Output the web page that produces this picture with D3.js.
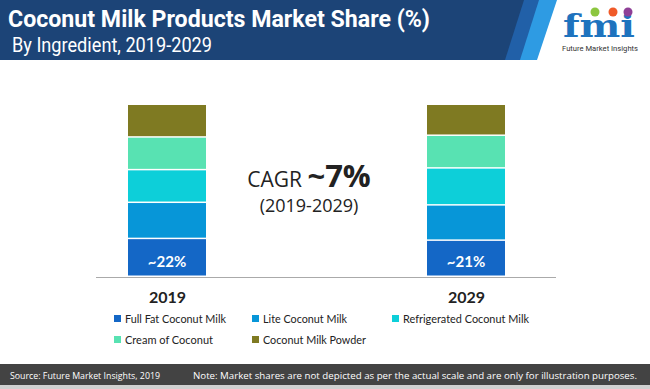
<!DOCTYPE html>
<html>
<head>
<meta charset="utf-8">
<script src="https://cdn.jsdelivr.net/npm/d3@7"></script>
<style>
  body { margin: 0; background: #fff; }
  svg { display: block; }
</style>
</head>
<body>
<script>
// data (shares, %)
let years = ["2019", "2029"];
let segments = ["Full Fat Coconut Milk", "Lite Coconut Milk", "Refrigerated Coconut Milk", "Cream of Coconut", "Coconut Milk Powder"];
let share2019 = [22, 21, 19, 19, 19];
let share2029 = [21, 20.5, 21.5, 19, 18];
let barLabels = ["~22%", "~21%"];
let colors = ["#1467c6", "#0796d8", "#0dcfd9", "#58e2b2", "#7f7a22"];

let size = {width: 650, height: 389};
let svg = d3.select("body").append("svg")
    .attr("width", size.width).attr("height", size.height);

// header band
let header = svg.append("g");
header.append("polygon").attr("points", "0,0 526,0 507,60 0,60").attr("fill", "#1c4477");
header.append("polygon").attr("points", "524,0 540,0 521,60 505,60").attr("fill", "#2160a8");
header.append("polygon").attr("points", "539,0 557,0 537,60 520,60").attr("fill", "#2e9be3");
header.append("text")
    .attr("x", 8).attr("y", 27)
    .attr("font-family", "Roboto").attr("font-weight", "bold").attr("font-size", 24)
    .attr("fill", "#fff")
    .attr("textLength", 422).attr("lengthAdjust", "spacingAndGlyphs")
    .text("Coconut Milk Products Market Share (%)");
header.append("text")
    .attr("x", 12).attr("y", 52)
    .attr("font-family", "Roboto").attr("font-size", 21)
    .attr("fill", "#fff")
    .attr("textLength", 200).attr("lengthAdjust", "spacingAndGlyphs")
    .text("By Ingredient, 2019-2029");

// logo (rough)
let logo = svg.append("g");
logo.append("text")
    .attr("x", 599).attr("y", 37).attr("text-anchor", "middle")
    .attr("font-family", "DejaVu Serif").attr("font-weight", "bold").attr("font-size", 32)
    .attr("fill", "#1e73be")
    .attr("textLength", 72).attr("lengthAdjust", "spacingAndGlyphs")
    .text("fmi");
[["#8cc63f", 595], ["#f05a28", 613], ["#8e3f96", 628]].forEach(d => {
  logo.append("circle").attr("cx", d[1]).attr("cy", 12).attr("r", 4.5).attr("fill", d[0]);
});
logo.append("text")
    .attr("x", 600).attr("y", 51).attr("text-anchor", "middle")
    .attr("font-family", "Roboto").attr("font-size", 7.5)
    .attr("fill", "#333")
    .attr("textLength", 76).attr("lengthAdjust", "spacingAndGlyphs")
    .text("Future Market Insights");

// scales
let x = d3.scalePoint().domain(years).range([167, 466]);
let y = d3.scaleLinear().domain([0, 100]).range([277, 105]);
let barWidth = 78;

let rows = years.map((yr, i) => {
  let vals = i === 0 ? share2019 : share2029;
  let row = {year: yr};
  segments.forEach((s, j) => row[s] = vals[j]);
  return row;
});
let stacked = d3.stack().keys(segments)(rows);

let bars = svg.append("g");
bars.selectAll("g")
  .data(stacked)
  .join("g")
    .attr("fill", (d, i) => colors[i])
  .selectAll("rect")
  .data(d => d)
  .join("rect")
    .attr("x", d => x(d.data.year) - barWidth / 2)
    .attr("y", d => y(d[1]))
    .attr("width", barWidth)
    .attr("height", d => y(d[0]) - y(d[1]) - 1.5);

// bar value labels
svg.append("g").selectAll("text")
  .data(years)
  .join("text")
    .attr("x", d => x(d))
    .attr("y", 267)
    .attr("text-anchor", "middle")
    .attr("font-family", "Lato").attr("font-weight", "bold").attr("font-size", 15)
    .attr("fill", "#fff")
    .text((d, i) => barLabels[i]);

// axis
let xAxis = d3.axisBottom(x).tickSize(0).tickPadding(14);
let axisG = svg.append("g").attr("transform", "translate(0,277.5)").call(xAxis);
axisG.select(".domain").attr("d", "M96,0H556").attr("stroke", "#aaa").attr("stroke-width", 1.2);
axisG.selectAll(".tick text")
    .attr("font-family", "Lato").attr("font-weight", "bold").attr("font-size", 16)
    .attr("fill", "#222");

// CAGR note
let cagr = svg.append("text")
    .attr("x", 309).attr("y", 187).attr("text-anchor", "middle")
    .attr("font-family", "Open Sans").attr("fill", "#222");
cagr.append("tspan").attr("font-size", 21).text("CAGR ");
cagr.append("tspan").attr("font-size", 31).attr("font-weight", "bold").text("~7%");
svg.append("text")
    .attr("x", 309).attr("y", 212).attr("text-anchor", "middle")
    .attr("font-family", "Open Sans").attr("font-size", 18).attr("fill", "#222")
    .text("(2019-2029)");

// legend
let legendPos = [[114, 323], [252, 323], [392, 323], [114, 344], [252, 344]];
let legendLen = [101, 84, 126, 88, 103];
let legend = svg.append("g").selectAll("g")
  .data(segments)
  .join("g")
    .attr("transform", (d, i) => `translate(${legendPos[i][0]},${legendPos[i][1]})`);
legend.append("rect")
    .attr("x", 0).attr("y", -8).attr("width", 7).attr("height", 7)
    .attr("fill", (d, i) => colors[i]);
legend.append("text")
    .attr("x", 11).attr("y", 0)
    .attr("font-family", "Lato").attr("font-size", 11.5)
    .attr("fill", "#222")
    .attr("textLength", (d, i) => legendLen[i]).attr("lengthAdjust", "spacingAndGlyphs")
    .text(d => d);

// footer
svg.append("rect").attr("x", 0).attr("y", 364).attr("width", 650).attr("height", 21).attr("fill", "#434343");
svg.append("rect").attr("x", 0).attr("y", 385).attr("width", 650).attr("height", 4).attr("fill", "#d0d0d0");
svg.append("text")
    .attr("x", 10).attr("y", 379)
    .attr("font-family", "Open Sans").attr("font-size", 9.8).attr("fill", "#fff")
    .attr("textLength", 150).attr("lengthAdjust", "spacingAndGlyphs")
    .text("Source: Future Market Insights, 2019");
svg.append("text")
    .attr("x", 193).attr("y", 379)
    .attr("font-family", "Open Sans").attr("font-size", 9.3).attr("fill", "#fff")
    .attr("textLength", 444).attr("lengthAdjust", "spacingAndGlyphs")
    .text("Note: Market shares are not depicted as per the actual scale and are only for illustration purposes.");
</script>
</body>
</html>
